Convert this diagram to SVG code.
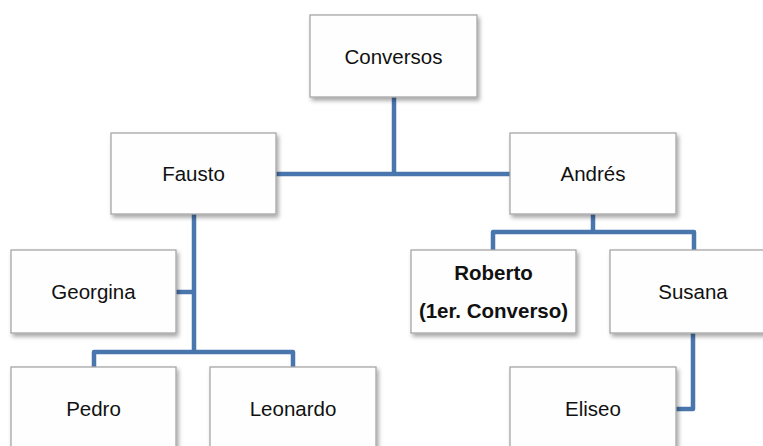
<svg xmlns="http://www.w3.org/2000/svg" width="763" height="446" viewBox="0 0 763 446">
  <defs>
    <filter id="sh" x="-10%" y="-10%" width="130%" height="130%">
      <feDropShadow dx="2" dy="3" stdDeviation="2" flood-color="#000" flood-opacity="0.35"/>
    </filter>
  </defs>
  <style>
    .box { fill: #fefefe; stroke: #a6a6a6; stroke-width: 1.3; filter: url(#sh); }
    .lbl { font-family: "Liberation Sans", Arial, sans-serif; font-size: 20.5px; fill: #111; text-anchor: middle; dominant-baseline: central; }
    .b { font-weight: bold; }
    .con { fill: none; stroke: #4a76ae; stroke-width: 4.5; stroke-linejoin: round; stroke-linecap: butt; }
  </style>
  <rect width="763" height="446" fill="#ffffff"/>
  <g id="connectors">
    <path class="con" d="M394 97 V174"/>
    <path class="con" d="M276 174 H510"/>
    <path class="con" d="M593 214 V232"/>
    <path class="con" d="M493 250 V232 H694 V250"/>
    <path class="con" d="M693 333 V409 H676"/>
    <path class="con" d="M194 214 V352"/>
    <path class="con" d="M176 292 H194"/>
    <path class="con" d="M94 367 V352 H293 V367"/>
  </g>
  <g id="conversos">
    <rect class="box" x="310" y="15" width="167" height="82"/>
    <text class="lbl" x="393.5" y="56">Conversos</text>
  </g>
  <g id="fausto">
    <rect class="box" x="111" y="133" width="165" height="81"/>
    <text class="lbl" x="193.5" y="173.5">Fausto</text>
  </g>
  <g id="andres">
    <rect class="box" x="510" y="133" width="166" height="81"/>
    <text class="lbl" x="593" y="173.5">Andrés</text>
  </g>
  <g id="georgina">
    <rect class="box" x="11" y="250" width="165" height="83"/>
    <text class="lbl" x="93.5" y="291.5">Georgina</text>
  </g>
  <g id="roberto">
    <rect class="box" x="411" y="250" width="165" height="83"/>
    <text class="lbl b" x="493.5" y="272.5">Roberto</text>
    <text class="lbl b" x="493.5" y="310">(1er. Converso)</text>
  </g>
  <g id="susana">
    <rect class="box" x="610" y="250" width="166" height="83"/>
    <text class="lbl" x="693" y="291.5">Susana</text>
  </g>
  <g id="pedro">
    <rect class="box" x="11" y="367" width="165" height="83"/>
    <text class="lbl" x="93.5" y="408.5">Pedro</text>
  </g>
  <g id="leonardo">
    <rect class="box" x="210" y="367" width="166" height="83"/>
    <text class="lbl" x="293" y="408.5">Leonardo</text>
  </g>
  <g id="eliseo">
    <rect class="box" x="510" y="367" width="166" height="83"/>
    <text class="lbl" x="593" y="408.5">Eliseo</text>
  </g>
</svg>
